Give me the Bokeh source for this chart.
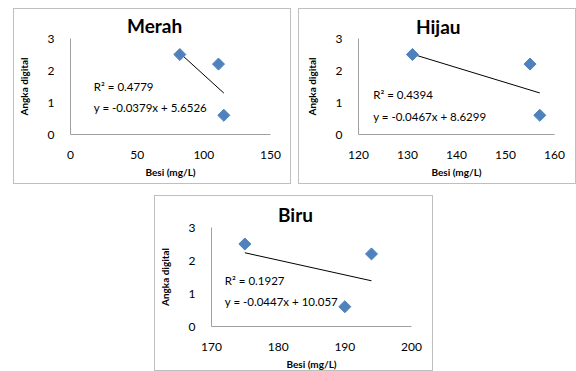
import math
from bokeh.plotting import figure
from bokeh.layouts import column, row
from bokeh.models import Label, Range1d, FixedTicker, Spacer
from bokeh.embed import file_html
from bokeh.resources import INLINE

# ---- data ----
merah_x = [82, 111, 115]
merah_y = [2.5, 2.2, 0.6]
merah_coef = [-0.0379, 5.6526]
merah_r2 = "R² = 0.4779"
merah_eq = "y = -0.0379x + 5.6526"
merah_xticks = [0, 50, 100, 150]

hijau_x = [131, 155, 157]
hijau_y = [2.5, 2.2, 0.6]
hijau_coef = [-0.0467, 8.6299]
hijau_r2 = "R² = 0.4394"
hijau_eq = "y = -0.0467x + 8.6299"
hijau_xticks = [120, 130, 140, 150, 160]

biru_x = [175, 194, 190]
biru_y = [2.5, 2.2, 0.6]
biru_coef = [-0.0447, 10.057]
biru_r2 = "R² = 0.1927"
biru_eq = "y = -0.0447x + 10.057"
biru_xticks = [170, 180, 190, 200]

y_ticks = [0, 1, 2, 3]

FONT = "Lato"
AXIS_COL = "#a0a0a0"


def make_chart(title, title_w, xs, ys, coef, r2, eq, xticks, w, h, bl, bt, fw, fh, tstand,
               lx, ly_r2, ly_eq):
    p = figure(width=w, height=h, output_backend="svg", toolbar_location=None,
               x_range=Range1d(xticks[0], xticks[-1]), y_range=Range1d(y_ticks[0], y_ticks[-1]),
               min_border_left=bl, min_border_top=bt,
               min_border_right=w - bl - fw, min_border_bottom=h - bt - fh,
               title=title)
    p.styles = {"border": "1px solid #bfbfbf", "box-sizing": "border-box"}
    # title centred over the whole chart box: left-aligned with an offset
    p.title.align = "left"
    p.title.offset = (w / 2 - bl) - title_w / 2
    p.title.text_font = FONT
    p.title.text_font_size = "19px"
    p.title.text_font_style = "bold"
    p.title.text_color = "#000000"
    p.title.standoff = tstand
    p.outline_line_color = None
    p.xgrid.visible = False
    p.ygrid.visible = False
    p.xaxis.ticker = FixedTicker(ticks=xticks)
    p.yaxis.ticker = FixedTicker(ticks=y_ticks)
    for ax in (p.xaxis[0], p.yaxis[0]):
        ax.axis_line_color = AXIS_COL
        ax.major_tick_line_color = None
        ax.minor_tick_line_color = None
        ax.major_label_text_font = FONT
        ax.major_label_text_font_size = "12px"
        ax.major_label_text_color = "#000000"
        ax.major_label_standoff = 10
        ax.axis_label_text_font = FONT
        ax.axis_label_text_font_size = "10px"
        ax.axis_label_text_font_style = "bold"
        ax.axis_label_text_color = "#000000"
    p.xaxis.axis_label = "Besi (mg/L)"
    p.yaxis.axis_label = "Angka digital"
    p.xaxis.axis_label_standoff = 4
    p.yaxis.axis_label_standoff = 15

    x0, x1 = min(xs), max(xs)
    p.line([x0, x1], [coef[0] * x0 + coef[1], coef[0] * x1 + coef[1]],
           line_color="#000000", line_width=1)
    p.scatter(xs, ys, marker="square", angle=math.pi / 4, size=8.5,
              fill_color="#4f81bd", line_color="#4f81bd")

    for txt, yy in ((r2, ly_r2), (eq, ly_eq)):
        p.add_layout(Label(x=lx, y=yy, text=txt, text_font=FONT,
                           text_font_size="11.5px", text_color="#000000",
                           text_baseline="middle", text_align="left"))
    return p


p1 = make_chart("Merah", 55, merah_x, merah_y, merah_coef, merah_r2, merah_eq, merah_xticks,
                278, 176, 55, 29, 201, 98, 4, 17.5, 1.5, 0.83)
p2 = make_chart("Hijau", 45, hijau_x, hijau_y, hijau_coef, hijau_r2, hijau_eq, hijau_xticks,
                278, 176, 59, 27, 196, 98, 2, 123.0, 1.26, 0.55)
p3 = make_chart("Biru", 36, biru_x, biru_y, biru_coef, biru_r2, biru_eq, biru_xticks,
                279, 176, 55, 31, 201, 99, 4, 172.0, 1.39, 0.76)

layout = column(
    Spacer(width=576, height=8),
    row(Spacer(width=13, height=176), p1, Spacer(width=7, height=176), p2),
    Spacer(width=576, height=11),
    row(Spacer(width=154, height=176), p3),
)

open("out.html", "w").write(file_html(layout, INLINE))
